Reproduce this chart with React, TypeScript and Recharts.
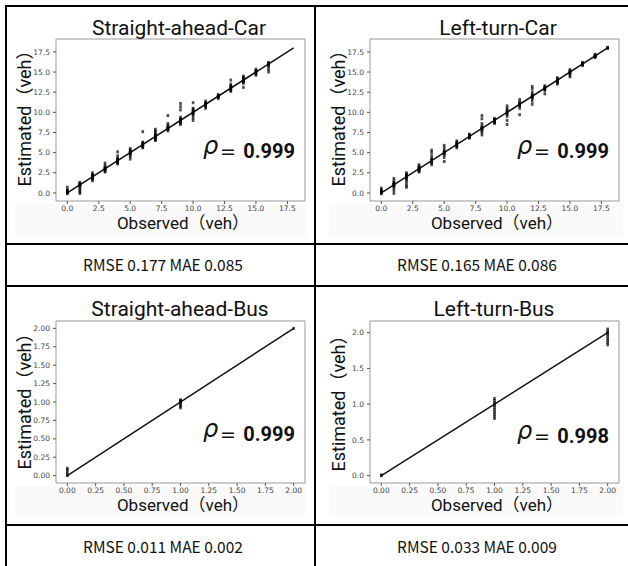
import React from 'react';
import { ScatterChart, Scatter, XAxis, YAxis, ReferenceLine, ReferenceArea } from 'recharts';

// ---------- data ----------
const carTicks = [0, 2.5, 5, 7.5, 10, 12.5, 15, 17.5];
const busTicksQuarter = [0, 0.25, 0.5, 0.75, 1, 1.25, 1.5, 1.75, 2];
const busTicksHalf = [0, 0.5, 1, 1.5, 2];

const straightCarObserved = [0, 1, 2, 3, 4, 5, 6, 7, 8, 9, 10, 11, 12, 13, 14, 15, 16];
const straightCarEstimated = [
  [-0.1, 0.0, 0.05, 0.1, 0.15, 0.2, 0.3, 0.4, 0.7],
  [-0.05, 0.1, 0.3, 0.5, 0.7, 0.85, 0.95, 1.0, 1.05, 1.1, 1.2, 1.3],
  [1.5, 1.7, 1.8, 1.9, 2.0, 2.05, 2.1, 2.2, 2.3, 2.5],
  [2.6, 2.7, 2.85, 2.95, 3.0, 3.05, 3.1, 3.2, 3.4, 3.7],
  [3.6, 3.7, 3.8, 3.9, 4.0, 4.05, 4.1, 4.2, 4.3, 4.6, 5.1],
  [4.2, 4.5, 4.7, 4.85, 4.95, 5.0, 5.05, 5.1, 5.2, 5.35, 5.5],
  [5.6, 5.7, 5.8, 5.9, 6.0, 6.05, 6.1, 6.2, 6.3, 7.6],
  [6.5, 6.6, 6.7, 6.8, 6.9, 7.0, 7.05, 7.1, 7.2, 7.3, 7.5, 7.7, 7.9],
  [7.7, 7.85, 7.95, 8.0, 8.05, 8.1, 8.2, 8.4, 8.6, 9.6],
  [8.5, 8.65, 8.8, 8.9, 9.0, 9.05, 9.1, 9.2, 9.4, 10.3, 10.7, 11.1],
  [9.0, 9.3, 9.6, 9.8, 9.9, 10.0, 10.1, 10.2, 10.4, 10.5, 11.2],
  [10.5, 10.7, 10.85, 10.95, 11.0, 11.05, 11.1, 11.2, 11.4],
  [11.7, 11.85, 11.95, 12.0, 12.05, 12.1, 12.2],
  [12.6, 12.75, 12.85, 12.95, 13.0, 13.1, 13.2, 13.3, 13.5, 14.0],
  [13.1, 13.6, 13.75, 13.85, 13.95, 14.0, 14.1, 14.2, 14.35, 14.5],
  [14.6, 14.75, 14.9, 15.0, 15.1, 15.2, 15.35],
  [15.0, 15.3, 15.6, 15.8, 15.95, 16.0, 16.1, 16.2],
];

const leftCarObserved = [0, 1, 2, 3, 4, 5, 6, 7, 8, 9, 10, 11, 12, 13, 14, 15, 16, 17, 18];
const leftCarEstimated = [
  [-0.1, 0.0, 0.05, 0.1, 0.2, 0.3, 0.4, 0.6],
  [-0.05, 0.3, 0.6, 0.8, 0.9, 1.0, 1.05, 1.1, 1.2, 1.3, 1.5, 1.8],
  [0.7, 0.9, 1.2, 1.5, 1.7, 1.85, 1.95, 2.0, 2.05, 2.1, 2.2, 2.35, 2.5],
  [2.6, 2.7, 2.8, 2.9, 3.0, 3.05, 3.1, 3.2, 3.3, 3.5],
  [3.5, 3.7, 3.85, 3.95, 4.0, 4.05, 4.15, 4.3, 4.6, 5.0, 5.3],
  [3.9, 4.4, 4.7, 4.85, 4.95, 5.0, 5.05, 5.15, 5.3, 5.6, 5.9],
  [5.6, 5.75, 5.85, 5.95, 6.0, 6.05, 6.15, 6.3, 6.45],
  [6.8, 6.9, 6.95, 7.0, 7.05, 7.1, 7.2, 7.3],
  [7.2, 7.5, 7.7, 7.85, 7.95, 8.0, 8.05, 8.15, 8.3, 8.6, 9.2, 9.6],
  [8.6, 8.75, 8.85, 8.95, 9.0, 9.05, 9.15, 9.25],
  [8.5, 9.0, 9.5, 9.75, 9.9, 10.0, 10.05, 10.15, 10.3, 10.5, 10.8],
  [9.7, 10.5, 10.75, 10.9, 11.0, 11.05, 11.15, 11.3, 11.6],
  [11.0, 11.4, 11.7, 11.85, 11.95, 12.0, 12.1, 12.25, 12.5, 12.9, 13.2],
  [12.3, 12.7, 12.85, 12.95, 13.0, 13.05, 13.15, 13.3],
  [13.5, 13.65, 13.8, 13.9, 14.0, 14.05, 14.15, 14.3],
  [14.4, 14.6, 14.8, 14.9, 15.0, 15.05, 15.15, 15.3],
  [15.8, 15.9, 15.95, 16.0, 16.05, 16.1, 16.2],
  [16.8, 16.9, 16.95, 17.0, 17.05, 17.1, 17.2],
  [17.95, 18.0, 18.05],
];

const straightBusObserved = [0, 1, 2];
const straightBusEstimated = [
  [0.0, 0.02, 0.05, 0.08, 0.1],
  [0.92, 0.94, 0.96, 0.98, 1.0, 1.01, 1.02, 1.03],
  [2.0],
];

const leftBusObserved = [0, 1, 2];
const leftBusEstimated = [
  [0.0, 0.01],
  [0.8, 0.83, 0.86, 0.89, 0.92, 0.95, 0.98, 1.0, 1.02, 1.05, 1.08],
  [1.83, 1.86, 1.89, 1.92, 1.95, 1.98, 2.0, 2.02, 2.05],
];

const titles = ['Straight-ahead-Car', 'Left-turn-Car', 'Straight-ahead-Bus', 'Left-turn-Bus'];
const rhoValues = ['0.999', '0.999', '0.999', '0.998'];
const rmseValues = ['0.177', '0.165', '0.011', '0.033'];
const maeValues = ['0.085', '0.086', '0.002', '0.009'];
const xLabel = 'Observed（veh）';
const yLabel = 'Estimated（veh）';

// ---------- panel ----------
const PW = 249;
const PH = 162;
const YW = 40;
const XH = 24;
const MT = 4;
const MR = 6;

const tickStyle = { fontSize: 7.5, fill: '#444', fontFamily: 'DejaVu Sans' };

const Dot = (props: any) => {
  const { cx, cy } = props;
  if (cx == null || cy == null) return null;
  return <rect x={cx - 1.3} y={cy - 1.5} width={2.6} height={3} fill="#000" fillOpacity={0.7} />;
};

function Panel(p: any) {
  const data: { x: number; y: number }[] = [];
  p.obs.forEach((o: number, i: number) => p.est[i].forEach((v: number) => data.push({ x: o, y: v })));
  return (
    <div style={{ position: 'absolute', left: p.left - YW, top: p.top - MT }}>
      <ScatterChart
        width={PW + YW + MR}
        height={PH + MT + XH}
        margin={{ top: MT, right: MR, bottom: 0, left: 0 }}
      >
        <XAxis
          type="number"
          dataKey="x"
          domain={p.xDomain}
          ticks={p.xTicks}
          allowDataOverflow
          interval={0}
          height={XH}
          tickFormatter={(v: number) => v.toFixed(p.xDigits)}
          tick={tickStyle}
          tickSize={3}
          tickMargin={2}
          axisLine={false}
          tickLine={{ stroke: '#555' }}
        />
        <YAxis
          type="number"
          dataKey="y"
          domain={p.yDomain}
          ticks={p.yTicks}
          allowDataOverflow
          interval={0}
          width={YW}
          tickFormatter={(v: number) => v.toFixed(p.yDigits)}
          tick={tickStyle}
          tickSize={3}
          tickMargin={3}
          axisLine={false}
          tickLine={{ stroke: '#555' }}
        />
        <ReferenceArea
          x1={p.xDomain[0]}
          x2={p.xDomain[1]}
          y1={p.yDomain[0]}
          y2={p.yDomain[1]}
          fill="#fff"
          fillOpacity={1}
          stroke="#999"
          strokeWidth={1}
          ifOverflow="visible"
        />
        <Scatter data={data} shape={Dot} isAnimationActive={false} />
        <ReferenceLine
          segment={[
            { x: p.lineEnds[0], y: p.lineEnds[0] },
            { x: p.lineEnds[1], y: p.lineEnds[1] },
          ]}
          stroke="#111"
          strokeWidth={1.5}
          ifOverflow="visible"
        />
      </ScatterChart>
    </div>
  );
}

const panels = [
  { left: 56, top: 39, obs: straightCarObserved, est: straightCarEstimated, xDomain: [-0.9, 18.9], yDomain: [-1.0, 19.1], xTicks: carTicks, yTicks: carTicks, xDigits: 1, yDigits: 1, lineEnds: [0, 18] },
  { left: 370, top: 39, obs: leftCarObserved, est: leftCarEstimated, xDomain: [-0.9, 18.9], yDomain: [-1.0, 19.1], xTicks: carTicks, yTicks: carTicks, xDigits: 1, yDigits: 1, lineEnds: [0, 18] },
  { left: 56, top: 321, obs: straightBusObserved, est: straightBusEstimated, xDomain: [-0.1, 2.1], yDomain: [-0.1, 2.1], xTicks: busTicksQuarter, yTicks: busTicksQuarter, xDigits: 2, yDigits: 2, lineEnds: [0, 2] },
  { left: 370, top: 321, obs: leftBusObserved, est: leftBusEstimated, xDomain: [-0.1, 2.1], yDomain: [-0.103, 2.163], xTicks: busTicksQuarter, yTicks: busTicksHalf, xDigits: 2, yDigits: 1, lineEnds: [0, 2] },
];

const cellX = [0, 314, 0, 314];
const rowY = [0, 0, 282, 282];

export default function App() {
  return (
    <div style={{ position: 'absolute', left: 0, top: 0, width: 628, height: 566, background: '#fff', overflow: 'hidden' }}>
      {/* faint image strips behind x labels */}
      <div style={{ position: 'absolute', left: 15, top: 204, width: 291, height: 33, background: '#fafafa' }} />
      <div style={{ position: 'absolute', left: 329, top: 204, width: 294, height: 33, background: '#fafafa' }} />
      <div style={{ position: 'absolute', left: 15, top: 486, width: 291, height: 30, background: '#fafafa' }} />
      <div style={{ position: 'absolute', left: 329, top: 486, width: 294, height: 30, background: '#fafafa' }} />
      {panels.map((p, i) => (
        <Panel key={i} {...p} />
      ))}
      <svg width={628} height={566} style={{ position: 'absolute', left: 0, top: 0, pointerEvents: 'none' }}>
        {/* table lines */}
        <rect x={5} y={5} width={623} height={2} fill="#000" />
        <rect x={5} y={5} width={2} height={561} fill="#000" />
        <rect x={314} y={5} width={2} height={561} fill="#000" />
        <rect x={5} y={243} width={623} height={2} fill="#000" />
        <rect x={5} y={285} width={623} height={2} fill="#000" />
        <rect x={5} y={524} width={623} height={2} fill="#000" />
        {titles.map((t, i) => {
          const cx = cellX[i];
          const cy = rowY[i];
          return (
            <g key={t}>
              <text x={[179, 498, 180, 494][i]} y={[35, 35, 316, 316][i]} textAnchor="middle" fontFamily="Roboto, 'Noto Sans'" fontSize={21} fill="#111">
                {t}
              </text>
              <text x={183 + cx} y={229 + cy} textAnchor="middle" fontFamily="Roboto, 'Noto Sans CJK KR'" fontSize={17} fill="#111">
                {xLabel}
              </text>
              <text transform={`translate(${31 + cx},${[114, 114, 397, 399][i]}) rotate(-90)`} textAnchor="middle" fontFamily="Roboto, 'Noto Sans CJK KR'" fontSize={18} fill="#111">
                {yLabel}
              </text>
              <text x={203 + cx} y={[154, 154, 437, 439][i]} fontFamily="'DejaVu Sans'" fontStyle="italic" fontSize={24} fill="#111">
                ρ
              </text>
              <text x={220 + cx} y={[158, 158, 441, 443][i]} fontFamily="'DejaVu Sans'" fontSize={19} fill="#111">
                =
              </text>
              <text x={295 + cx} y={[158, 158, 441, 443][i]} textAnchor="end" fontFamily="Roboto, Arial" fontWeight="bold" fontSize={20} fill="#111">
                {rhoValues[i]}
              </text>
              <text x={163 + cx} y={[271, 271, 553, 553][i]} textAnchor="middle" fontFamily="'Noto Sans CJK KR'" fontSize={15.5} fill="#111">
                {`RMSE ${rmseValues[i]} MAE ${maeValues[i]}`}
              </text>
            </g>
          );
        })}
      </svg>
    </div>
  );
}
